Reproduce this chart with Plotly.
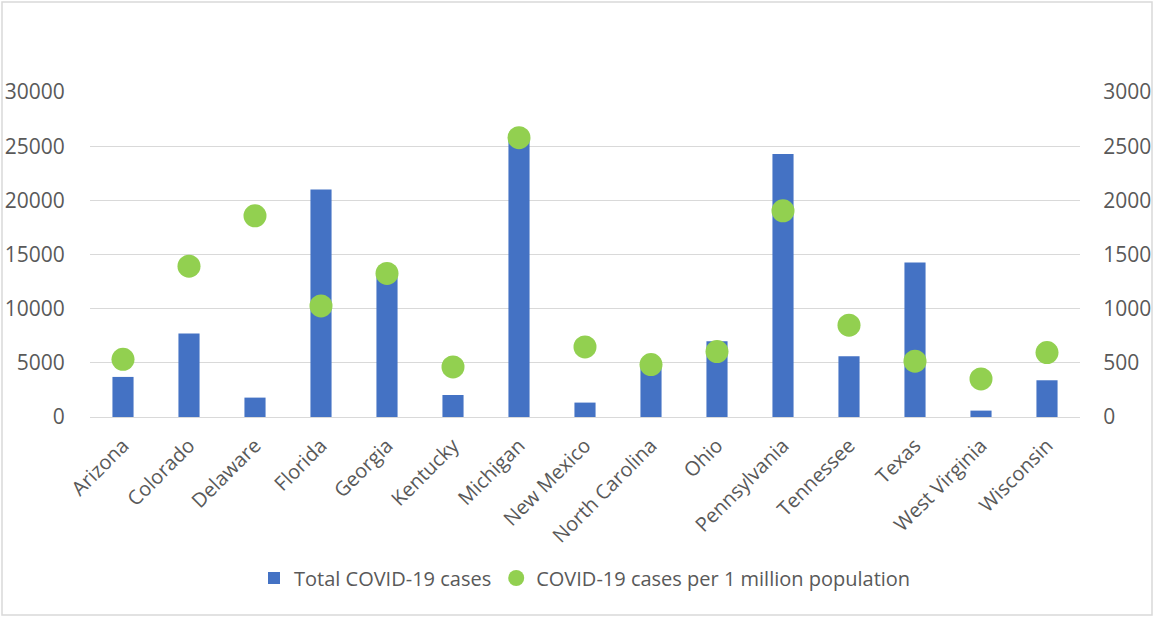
import plotly.graph_objects as go

states = ["Arizona", "Colorado", "Delaware", "Florida", "Georgia", "Kentucky", "Michigan",
          "New Mexico", "North Carolina", "Ohio", "Pennsylvania", "Tennessee", "Texas",
          "West Virginia", "Wisconsin"]
total_cases = [3700, 7700, 1790, 21000, 12900, 2030, 25600, 1330, 4700, 7000, 24270,
               5610, 14270, 590, 3390]
per_million = [533, 1392, 1857, 1025, 1325, 462, 2578, 647, 484, 604, 1903, 847, 515, 351, 595]
left_ticks = [0, 5000, 10000, 15000, 20000, 25000, 30000]
left_labels = ["0", "5000", "10000", "15000", "20000", "25000", "30000"]
right_ticks = [0, 500, 1000, 1500, 2000, 2500, 3000]
right_labels = ["0", "500", "1000", "1500", "2000", "2500", "3000"]

W, H = 1154, 617
ml, mr, mt, mb = 90, 74, 92, 200
pw, ph = W - ml - mr, H - mt - mb

font_family = "Open Sans, Liberation Sans, sans-serif"
grey = "#595959"

fig = go.Figure()
fig.add_trace(go.Bar(x=states, y=total_cases, name="Total COVID-19 cases",
                     marker=dict(color="#4472c4", line=dict(width=0)), width=0.32))
fig.add_trace(go.Scatter(x=states, y=per_million, name="COVID-19 cases per 1 million population",
                         mode="markers", yaxis="y2",
                         marker=dict(color="#92d050", size=23, line=dict(width=0))))

fig.update_layout(
    width=W, height=H,
    margin=dict(l=ml, r=mr, t=mt, b=mb, autoexpand=False),
    paper_bgcolor="white", plot_bgcolor="white",
    font=dict(family=font_family, size=20, color=grey),
    showlegend=True,
    legend=dict(orientation="h", x=0.5, xanchor="center", y=-161 / ph, yanchor="middle",
                font=dict(size=20, color=grey), itemsizing="trace", tracegroupgap=0),
    xaxis=dict(tickangle=-45, showgrid=False, showline=False, ticks="outside",
               range=[-0.5, len(states) - 0.5],
               ticklen=8, tickcolor="white", automargin=False,
               tickfont=dict(size=20, color=grey)),
    yaxis=dict(range=[0, 30000], tickvals=left_ticks, ticktext=left_labels,
               showgrid=True, gridcolor="#d9d9d9",
               gridwidth=1, zeroline=True, zerolinecolor="#d9d9d9", zerolinewidth=1,
               showline=False, ticks="outside", ticklen=20, tickcolor="white",
               automargin=False, tickfont=dict(size=21, color=grey)),
    yaxis2=dict(range=[0, 3000], tickvals=right_ticks, ticktext=right_labels,
                overlaying="y", side="right",
                showgrid=False, zeroline=False, showline=False, ticks="outside",
                ticklen=18, tickcolor="white", automargin=False,
                tickfont=dict(size=21, color=grey)),
    bargap=0.68,
)

fig.add_shape(type="rect", xref="paper", yref="paper",
              x0=(2 - ml) / pw, x1=(W - 2 - ml) / pw,
              y0=-(mb - 2) / ph, y1=(ph + mt - 2) / ph,
              line=dict(color="#d9d9d9", width=1.5), fillcolor="rgba(0,0,0,0)", layer="below")

fig.write_html("out.html")
